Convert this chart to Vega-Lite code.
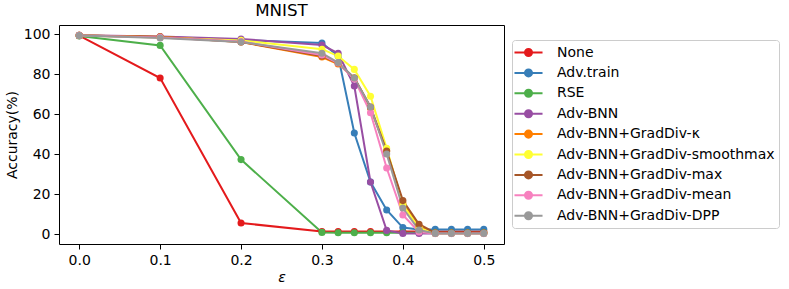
{
  "$schema": "https://vega.github.io/schema/vega-lite/v6.json",
  "width": 445,
  "height": 219,
  "autosize": {"type": "none"},
  "padding": {"left": 59, "top": 25, "right": 285, "bottom": 45},
  "background": "white",
  "config": {
    "font": "DejaVu Sans",
    "view": {"stroke": "black", "strokeWidth": 1},
    "axis": {
      "domain": false, "grid": false, "tickColor": "black", "tickSize": 5, "tickWidth": 1,
      "labelFontSize": 14, "labelColor": "black", "labelFont": "DejaVu Sans",
      "titleFontSize": 14, "titleFontWeight": "normal", "titleColor": "black", "titleFont": "DejaVu Sans",
      "labelPadding": 4
    }
  },
  "title": {"text": "MNIST", "fontSize": 16.7, "fontWeight": "normal", "color": "black", "font": "DejaVu Sans", "offset": 5},
  "data": {"values": [
    {"m":"None","e":0,"a":99.2},{"m":"None","e":0.1,"a":78},{"m":"None","e":0.2,"a":5.5},{"m":"None","e":0.3,"a":1.2},{"m":"None","e":0.32,"a":1.2},{"m":"None","e":0.34,"a":1.2},{"m":"None","e":0.36,"a":1.2},{"m":"None","e":0.38,"a":1.2},{"m":"None","e":0.4,"a":1.2},{"m":"None","e":0.42,"a":1.2},{"m":"None","e":0.44,"a":1.2},{"m":"None","e":0.46,"a":1.2},{"m":"None","e":0.48,"a":1.2},{"m":"None","e":0.5,"a":1.2},
    {"m":"Adv.train","e":0,"a":99.3},{"m":"Adv.train","e":0.1,"a":98.5},{"m":"Adv.train","e":0.2,"a":97},{"m":"Adv.train","e":0.3,"a":95.5},{"m":"Adv.train","e":0.32,"a":89},{"m":"Adv.train","e":0.34,"a":50.5},{"m":"Adv.train","e":0.36,"a":26},{"m":"Adv.train","e":0.38,"a":12},{"m":"Adv.train","e":0.4,"a":3.2},{"m":"Adv.train","e":0.42,"a":2.3},{"m":"Adv.train","e":0.44,"a":2.3},{"m":"Adv.train","e":0.46,"a":2.3},{"m":"Adv.train","e":0.48,"a":2.3},{"m":"Adv.train","e":0.5,"a":2.3},
    {"m":"RSE","e":0,"a":99},{"m":"RSE","e":0.1,"a":94.3},{"m":"RSE","e":0.2,"a":37.2},{"m":"RSE","e":0.3,"a":0.8},{"m":"RSE","e":0.32,"a":0.6},{"m":"RSE","e":0.34,"a":0.6},{"m":"RSE","e":0.36,"a":0.6},{"m":"RSE","e":0.38,"a":0.6},{"m":"RSE","e":0.4,"a":0.6},{"m":"RSE","e":0.42,"a":0.6},{"m":"RSE","e":0.44,"a":0.6},{"m":"RSE","e":0.46,"a":0.6},{"m":"RSE","e":0.48,"a":0.6},{"m":"RSE","e":0.5,"a":0.6},
    {"m":"Adv-BNN","e":0,"a":99.4},{"m":"Adv-BNN","e":0.1,"a":98.7},{"m":"Adv-BNN","e":0.2,"a":97.5},{"m":"Adv-BNN","e":0.3,"a":94.5},{"m":"Adv-BNN","e":0.32,"a":90.4},{"m":"Adv-BNN","e":0.34,"a":74},{"m":"Adv-BNN","e":0.36,"a":26},{"m":"Adv-BNN","e":0.38,"a":1.8},{"m":"Adv-BNN","e":0.4,"a":0.3},{"m":"Adv-BNN","e":0.42,"a":0.3},{"m":"Adv-BNN","e":0.44,"a":0.3},{"m":"Adv-BNN","e":0.46,"a":0.3},{"m":"Adv-BNN","e":0.48,"a":0.3},{"m":"Adv-BNN","e":0.5,"a":0.3},
    {"m":"Adv-BNN+GradDiv-κ","e":0,"a":99.3},{"m":"Adv-BNN+GradDiv-κ","e":0.1,"a":98.6},{"m":"Adv-BNN+GradDiv-κ","e":0.2,"a":96},{"m":"Adv-BNN+GradDiv-κ","e":0.3,"a":88.5},{"m":"Adv-BNN+GradDiv-κ","e":0.32,"a":85},{"m":"Adv-BNN+GradDiv-κ","e":0.34,"a":78},{"m":"Adv-BNN+GradDiv-κ","e":0.36,"a":63},{"m":"Adv-BNN+GradDiv-κ","e":0.38,"a":41.5},{"m":"Adv-BNN+GradDiv-κ","e":0.4,"a":15.5},{"m":"Adv-BNN+GradDiv-κ","e":0.42,"a":3.5},{"m":"Adv-BNN+GradDiv-κ","e":0.44,"a":0.5},{"m":"Adv-BNN+GradDiv-κ","e":0.46,"a":0.5},{"m":"Adv-BNN+GradDiv-κ","e":0.48,"a":0.5},{"m":"Adv-BNN+GradDiv-κ","e":0.5,"a":0.5},
    {"m":"Adv-BNN+GradDiv-smoothmax","e":0,"a":99.3},{"m":"Adv-BNN+GradDiv-smoothmax","e":0.1,"a":98.3},{"m":"Adv-BNN+GradDiv-smoothmax","e":0.2,"a":96.8},{"m":"Adv-BNN+GradDiv-smoothmax","e":0.3,"a":92.4},{"m":"Adv-BNN+GradDiv-smoothmax","e":0.32,"a":89},{"m":"Adv-BNN+GradDiv-smoothmax","e":0.34,"a":82.3},{"m":"Adv-BNN+GradDiv-smoothmax","e":0.36,"a":68.9},{"m":"Adv-BNN+GradDiv-smoothmax","e":0.38,"a":42.8},{"m":"Adv-BNN+GradDiv-smoothmax","e":0.4,"a":14.6},{"m":"Adv-BNN+GradDiv-smoothmax","e":0.42,"a":3},{"m":"Adv-BNN+GradDiv-smoothmax","e":0.44,"a":0.3},{"m":"Adv-BNN+GradDiv-smoothmax","e":0.46,"a":0.3},{"m":"Adv-BNN+GradDiv-smoothmax","e":0.48,"a":0.3},{"m":"Adv-BNN+GradDiv-smoothmax","e":0.5,"a":0.3},
    {"m":"Adv-BNN+GradDiv-max","e":0,"a":99.3},{"m":"Adv-BNN+GradDiv-max","e":0.1,"a":98.5},{"m":"Adv-BNN+GradDiv-max","e":0.2,"a":96},{"m":"Adv-BNN+GradDiv-max","e":0.3,"a":89},{"m":"Adv-BNN+GradDiv-max","e":0.32,"a":85.5},{"m":"Adv-BNN+GradDiv-max","e":0.34,"a":78},{"m":"Adv-BNN+GradDiv-max","e":0.36,"a":63.5},{"m":"Adv-BNN+GradDiv-max","e":0.38,"a":41.5},{"m":"Adv-BNN+GradDiv-max","e":0.4,"a":16.7},{"m":"Adv-BNN+GradDiv-max","e":0.42,"a":4.9},{"m":"Adv-BNN+GradDiv-max","e":0.44,"a":0.5},{"m":"Adv-BNN+GradDiv-max","e":0.46,"a":0.5},{"m":"Adv-BNN+GradDiv-max","e":0.48,"a":0.5},{"m":"Adv-BNN+GradDiv-max","e":0.5,"a":0.5},
    {"m":"Adv-BNN+GradDiv-mean","e":0,"a":99.3},{"m":"Adv-BNN+GradDiv-mean","e":0.1,"a":98.3},{"m":"Adv-BNN+GradDiv-mean","e":0.2,"a":96.2},{"m":"Adv-BNN+GradDiv-mean","e":0.3,"a":89.5},{"m":"Adv-BNN+GradDiv-mean","e":0.32,"a":85.5},{"m":"Adv-BNN+GradDiv-mean","e":0.34,"a":77.5},{"m":"Adv-BNN+GradDiv-mean","e":0.36,"a":60.6},{"m":"Adv-BNN+GradDiv-mean","e":0.38,"a":33},{"m":"Adv-BNN+GradDiv-mean","e":0.4,"a":9.5},{"m":"Adv-BNN+GradDiv-mean","e":0.42,"a":1},{"m":"Adv-BNN+GradDiv-mean","e":0.44,"a":0.2},{"m":"Adv-BNN+GradDiv-mean","e":0.46,"a":0.2},{"m":"Adv-BNN+GradDiv-mean","e":0.48,"a":0.2},{"m":"Adv-BNN+GradDiv-mean","e":0.5,"a":0.2},
    {"m":"Adv-BNN+GradDiv-DPP","e":0,"a":99.2},{"m":"Adv-BNN+GradDiv-DPP","e":0.1,"a":98},{"m":"Adv-BNN+GradDiv-DPP","e":0.2,"a":96},{"m":"Adv-BNN+GradDiv-DPP","e":0.3,"a":90.4},{"m":"Adv-BNN+GradDiv-DPP","e":0.32,"a":85.7},{"m":"Adv-BNN+GradDiv-DPP","e":0.34,"a":78},{"m":"Adv-BNN+GradDiv-DPP","e":0.36,"a":63.5},{"m":"Adv-BNN+GradDiv-DPP","e":0.38,"a":40},{"m":"Adv-BNN+GradDiv-DPP","e":0.4,"a":13},{"m":"Adv-BNN+GradDiv-DPP","e":0.42,"a":2},{"m":"Adv-BNN+GradDiv-DPP","e":0.44,"a":0.3},{"m":"Adv-BNN+GradDiv-DPP","e":0.46,"a":0.3},{"m":"Adv-BNN+GradDiv-DPP","e":0.48,"a":0.3},{"m":"Adv-BNN+GradDiv-DPP","e":0.5,"a":0.3}
  ]},
  "encoding": {
    "x": {"field": "e", "type": "quantitative",
      "scale": {"domain": [-0.025, 0.525], "nice": false, "zero": false},
      "axis": {"values": [0, 0.1, 0.2, 0.3, 0.4, 0.5], "format": ".1f", "title": "ε", "titleFontStyle": "italic", "titlePadding": 3}},
    "y": {"field": "a", "type": "quantitative",
      "scale": {"domain": [-5, 104.5], "nice": false, "zero": false},
      "axis": {"values": [0, 20, 40, 60, 80, 100], "title": "Accuracy(%)", "titlePadding": 4}},
    "color": {"field": "m", "type": "nominal",
      "scale": {
        "domain": ["None", "Adv.train", "RSE", "Adv-BNN", "Adv-BNN+GradDiv-κ", "Adv-BNN+GradDiv-smoothmax", "Adv-BNN+GradDiv-max", "Adv-BNN+GradDiv-mean", "Adv-BNN+GradDiv-DPP"],
        "range": ["#e41a1c", "#377eb8", "#4daf4a", "#984ea3", "#ff7f00", "#ffff33", "#a65628", "#f781bf", "#999999"]
      },
      "legend": {
        "title": null, "orient": "none", "legendX": 453, "legendY": 15,
        "symbolType": "M-1.87,0L1.87,0M0.47,0A0.47,0.47,0,1,1,-0.47,0A0.47,0.47,0,1,1,0.47,0Z",
        "symbolSize": 225, "symbolStrokeWidth": 2, "symbolOpacity": 1, "symbolOffset": 4,
        "labelFontSize": 14, "labelColor": "black", "labelFont": "DejaVu Sans", "labelOffset": 20,
        "labelLimit": 400, "rowPadding": 3.4,
        "padding": 4, "strokeColor": "#cccccc", "cornerRadius": 3, "fillColor": "white",
        "encode": {"symbols": {"update": {
          "fill": {"scale": "color", "field": "value"},
          "stroke": {"scale": "color", "field": "value"}
        }}}
      }
    }
  },
  "layer": [
    {"mark": {"type": "line", "strokeWidth": 2}},
    {"mark": {"type": "point", "filled": true, "size": 50, "opacity": 1}}
  ]
}
